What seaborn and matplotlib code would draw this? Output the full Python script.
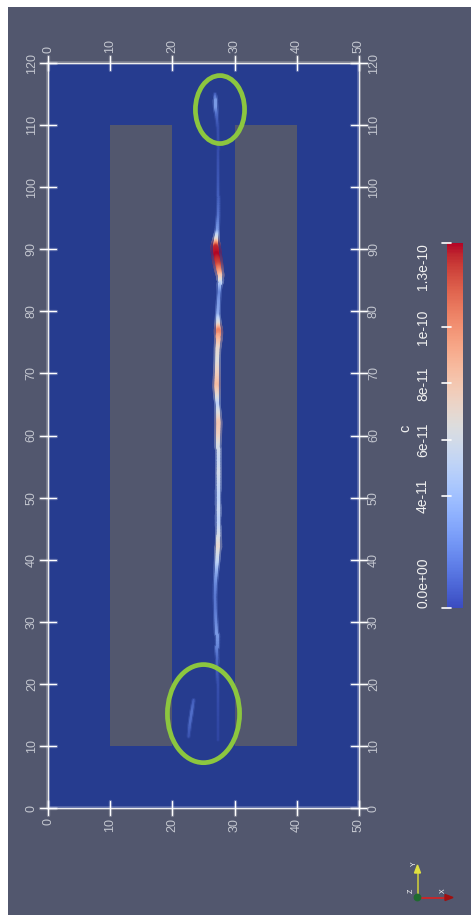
import numpy as np
import pandas as pd
import matplotlib
matplotlib.use("Agg")
import matplotlib.pyplot as plt
import seaborn as sns
from matplotlib.patches import Rectangle, Ellipse, Polygon, Circle
from matplotlib.collections import LineCollection
from matplotlib.colors import Normalize, to_rgb
from matplotlib.cm import ScalarMappable

# ------------------------------------------------------------------ data
domain_x = [0, 50]
domain_y = [0, 120]
obstacle_x = [10, 30]          # left edges of the two solid blocks
obstacle_w = [10, 10]
obstacle_y = [10, 110]         # bottom / top of both blocks

x_ticks = [0, 10, 20, 30, 40, 50]
y_ticks = [0, 10, 20, 30, 40, 50, 60, 70, 80, 90, 100, 110, 120]

# main filament of concentration c (top -> bottom)
streak_y = [115.0, 114.0, 112.8, 111.5, 109.5, 106.0, 102.0, 98.5, 95.5, 93.0,
            91.5, 90.3, 89.0, 87.5, 86.0, 84.5, 83.0, 81.5, 79.5, 78.0,
            76.8, 75.7, 74.0, 72.0, 70.0, 68.0, 66.5, 65.0, 63.5, 62.0,
            60.0, 58.0, 56.0, 54.0, 52.0, 50.0, 48.0, 46.0, 44.0, 42.0,
            40.0, 38.0, 36.0, 34.0, 32.0, 30.0, 28.0, 26.0, 24.0, 22.0,
            20.0, 17.0, 14.0, 11.0]
streak_x = [26.9, 26.9, 26.95, 27.1, 27.3, 27.4, 27.4, 27.4, 27.35, 27.2,
            27.0, 26.95, 27.1, 27.35, 27.6, 27.6, 27.5, 27.4, 27.3, 27.35,
            27.4, 27.4, 27.25, 27.2, 27.15, 27.1, 27.15, 27.25, 27.35, 27.4,
            27.35, 27.3, 27.3, 27.3, 27.3, 27.3, 27.3, 27.3, 27.3, 27.3,
            27.2, 27.05, 26.9, 26.85, 26.9, 27.0, 27.1, 27.1, 27.2, 27.2,
            27.3, 27.3, 27.3, 27.3]
streak_c = [1.5e-11, 3.5e-11, 3.5e-11, 2.0e-11, 1.0e-11, 0.9e-11, 1.2e-11, 1.6e-11, 2.3e-11, 3.5e-11,
            7.0e-11, 12.5e-11, 13.0e-11, 12.0e-11, 9.0e-11, 5.0e-11, 3.0e-11, 3.5e-11, 4.0e-11, 6.5e-11,
            10.5e-11, 9.0e-11, 7.0e-11, 6.5e-11, 7.5e-11, 8.5e-11, 7.0e-11, 5.0e-11, 6.5e-11, 8.0e-11,
            7.5e-11, 6.0e-11, 5.5e-11, 6.0e-11, 5.5e-11, 5.0e-11, 5.5e-11, 5.0e-11, 6.0e-11, 7.0e-11,
            5.5e-11, 4.0e-11, 3.0e-11, 2.5e-11, 2.5e-11, 3.0e-11, 3.5e-11, 3.0e-11, 2.0e-11, 1.5e-11,
            1.0e-11, 0.8e-11, 0.6e-11, 0.5e-11]

# faint secondary filament near the inlet
side_y = [17.4, 15.5, 13.5, 11.5]
side_x = [23.4, 23.1, 22.8, 22.6]
side_c = [1.5e-11, 2.2e-11, 2.0e-11, 1.2e-11]

c_min, c_max = 0.0, 1.3e-10
cbar_ticks = [0.0, 4e-11, 6e-11, 8e-11, 1e-10, 1.3e-10]
cbar_labels = ["0.0e+00", "4e-11", "6e-11", "8e-11", "1e-10", "1.3e-10"]
cbar_title = "c"

# ------------------------------------------------------------------ style
sns.set_style("white")
plt.rcParams['font.family'] = ['Liberation Sans', 'DejaVu Sans']

BG = '#52576e'
FLUID = '#263c8f'
LABEL = '#c3c6cf'
GREEN = '#8cc63f'
W, H = 471, 919

fig = plt.figure(figsize=(W / 100, H / 100), dpi=100, facecolor='white')

# background panel (pixel coordinates)
bg = fig.add_axes([0, 0, 1, 1], zorder=0)
bg.set_xlim(0, W)
bg.set_ylim(H, 0)
bg.axis('off')
bg.add_patch(Rectangle((8, 7), W - 8, 908, color=BG, lw=0))

# main view
ax = fig.add_axes([48 / W, (H - 808) / H, 311 / W, 745 / H], zorder=1)

ax.add_patch(Rectangle((domain_x[0], domain_y[0]), domain_x[1] - domain_x[0],
                       domain_y[1] - domain_y[0], color=FLUID, lw=0, zorder=1))
for ox, ow in zip(obstacle_x, obstacle_w):
    ax.add_patch(Rectangle((ox, obstacle_y[0]), ow, obstacle_y[1] - obstacle_y[0],
                           color=BG, lw=0, zorder=2))

cmap = sns.color_palette("coolwarm", as_cmap=True)
norm = Normalize(c_min, c_max)
fluid_rgb = np.array(to_rgb(FLUID))


def draw_filament(xs, ys, cs, sub=8):
    """Polyline through the data points; each data segment is drawn in
    `sub` short pieces so the colour/width change smoothly (render only)."""
    xs, ys, cs = map(np.asarray, (xs, ys, cs))
    t = np.linspace(0, 1, sub + 1)
    px, py, pc = [], [], []
    for i in range(len(xs) - 1):
        tt = t if i == 0 else t[1:]
        px.append(xs[i] + (xs[i + 1] - xs[i]) * tt)
        py.append(ys[i] + (ys[i + 1] - ys[i]) * tt)
        pc.append(cs[i] + (cs[i + 1] - cs[i]) * tt)
    px, py, pc = np.concatenate(px), np.concatenate(py), np.concatenate(pc)
    pts = np.column_stack([px, py])
    segs = np.stack([pts[:-1], pts[1:]], axis=1)
    cm = 0.5 * (pc[:-1] + pc[1:])
    frac = np.clip(cm / c_max, 0, 1)
    base = cmap(norm(cm))[:, :3]
    mix = 0.25 + 0.75 * np.clip(cm / 5e-11, 0, 1)
    core = mix[:, None] * base + (1 - mix[:, None]) * fluid_rgb
    glow = 0.35 * core + 0.65 * fluid_rgb
    lw_px = 1.7 + 3.8 * frac
    ax.add_collection(LineCollection(segs, colors=glow, linewidths=lw_px * 0.72 * 2.0,
                                     capstyle='round', joinstyle='round', zorder=3))
    ax.add_collection(LineCollection(segs, colors=core, linewidths=lw_px * 0.72,
                                     capstyle='round', joinstyle='round', zorder=5))


df = pd.DataFrame({'x': streak_x, 'y': streak_y, 'c': streak_c})
sns.scatterplot(data=df, x='x', y='y', hue='c', palette=cmap, hue_norm=(c_min, c_max),
                size='c', sizes=(0.4, 7), size_norm=(c_min, c_max), linewidth=0,
                alpha=0.5, legend=False, ax=ax, zorder=4)
draw_filament(streak_x, streak_y, streak_c)
draw_filament(side_x, side_y, side_c)
ax.set_xlim(domain_x)
ax.set_ylim(domain_y)
ax.axis('off')

# box edges with glow
edge_x = [domain_x[0], domain_x[1], domain_x[1], domain_x[0], domain_x[0]]
edge_y = [domain_y[0], domain_y[0], domain_y[1], domain_y[1], domain_y[0]]
ax.plot(edge_x, edge_y, color='white', lw=2.6, alpha=0.25, zorder=6, clip_on=False)
ax.plot(edge_x, edge_y, color='#eeeeee', lw=0.9, zorder=7, clip_on=False)

tx, ty = 1.3, 1.15
for xv in x_ticks:
    for yv in domain_y:
        ax.plot([xv, xv], [yv - ty, yv + ty], color='white', lw=2.4, alpha=0.25, zorder=6, clip_on=False)
        ax.plot([xv, xv], [yv - ty, yv + ty], color='white', lw=0.9, zorder=7, clip_on=False)
for yv in y_ticks:
    for xv in domain_x:
        ax.plot([xv - tx, xv + tx], [yv, yv], color='white', lw=2.4, alpha=0.25, zorder=6, clip_on=False)
        ax.plot([xv - tx, xv + tx], [yv, yv], color='white', lw=0.9, zorder=7, clip_on=False)

lab_kw = dict(rotation=90, color=LABEL, fontsize=9, zorder=8, clip_on=False)
for xv in x_ticks:
    ax.text(xv, domain_y[1] + 1.6, f"{xv}", ha='center', va='bottom', **lab_kw)
    ax.text(xv, domain_y[0] - 1.6, f"{xv}", ha='center', va='top', **lab_kw)
for yv in y_ticks:
    ax.text(domain_x[0] - 2.6, yv, f"{yv}", ha='center', va='center', **lab_kw)
    ax.text(domain_x[1] + 2.4, yv, f"{yv}", ha='center', va='center', **lab_kw)

# highlight ellipses
ax.add_patch(Ellipse((27.65, 112.5), 7.9, 10.95, fill=False, ec=GREEN, lw=3.4, zorder=9))
ax.add_patch(Ellipse((25.0, 15.2), 11.6, 15.8, fill=False, ec=GREEN, lw=3.4, zorder=9))

# colorbar
cax = fig.add_axes([447 / W, (H - 608) / H, 16 / W, 365 / H], zorder=1)
cb = fig.colorbar(ScalarMappable(norm=norm, cmap=cmap), cax=cax)
cb.outline.set_visible(False)
cb.set_ticks([])
tr = cax.get_yaxis_transform()
for t, lab in zip(cbar_ticks, cbar_labels):
    cax.plot([-0.3, 0.25], [t, t], color='white', lw=1.2, transform=tr, clip_on=False)
    va = 'bottom' if t == cbar_ticks[0] else ('top' if t == cbar_ticks[-1] else 'center')
    cax.text(-1.5, t, lab, transform=tr, rotation=90, ha='center', va=va,
             color='#f0f0f0', fontsize=10, clip_on=False)
cax.text(-2.6, 6.41e-11, cbar_title, transform=tr, rotation=90, ha='center', va='center',
         color='#f0f0f0', fontsize=10.5, clip_on=False)

# orientation triad (pixel coordinates)
ox, oy = 417.5, 897.5
bg.plot([ox, ox], [oy, 871], color='#c8c83c', lw=1.2, zorder=3)
bg.add_patch(Polygon([[ox - 3, 873], [ox + 3, 873], [ox, 865]], color='#e0e040', zorder=4))
bg.plot([ox, 447], [oy, oy], color='#d92020', lw=1.2, zorder=3)
bg.add_patch(Polygon([[445, oy - 3], [445, oy + 3], [453, oy]], color='#a01010', zorder=4))
bg.add_patch(Circle((ox, oy), 3.2, color='#1f6b30', zorder=5))
bg.text(414, 864, "Y", rotation=90, color='white', fontsize=5, ha='center', va='center', zorder=6)
bg.text(443, 891, "X", rotation=90, color='white', fontsize=5, ha='center', va='center', zorder=6)
bg.text(411, 891, "Z", rotation=90, color='white', fontsize=5, ha='center', va='center', zorder=6)

fig.savefig("out.png", dpi=100, facecolor='white')
